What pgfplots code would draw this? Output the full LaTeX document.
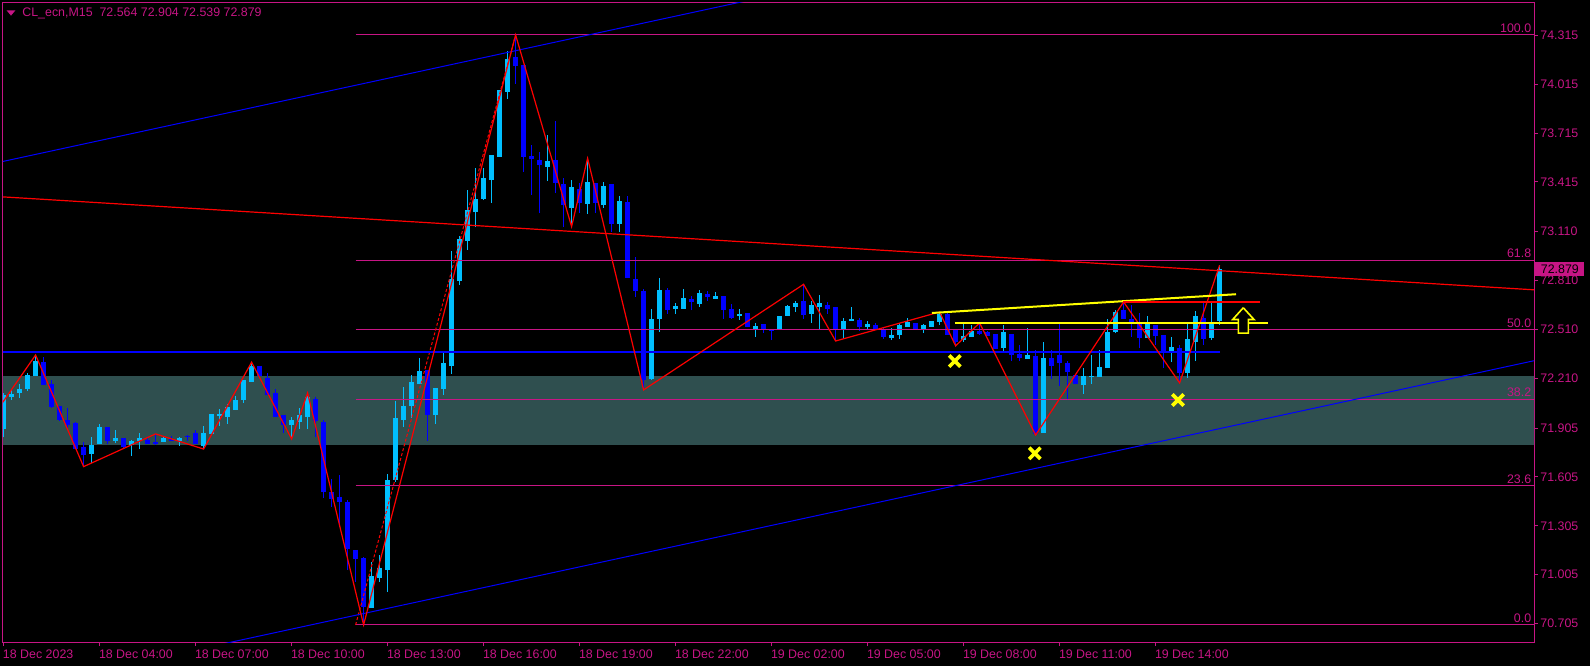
\documentclass[border=0pt]{standalone}
\usepackage{pgfplots}
\pgfplotsset{compat=1.18}
\usepackage{pgfplotstable}
\usepackage{fontspec}
\setmainfont{Liberation Sans}

\definecolor{mvr}{RGB}{199,21,133}
\definecolor{bullc}{RGB}{0,191,255}
\definecolor{bearc}{RGB}{0,0,255}
\definecolor{zone}{RGB}{47,79,79}
\definecolor{ylw}{RGB}{255,255,0}

% bar index, open, high, low, close
\pgfplotstableread{
x o h l c
0 71.899 72.122 71.848 72.108
1 72.097 72.143 72.077 72.114
2 72.120 72.175 72.091 72.145
3 72.145 72.245 72.132 72.231
4 72.226 72.353 72.226 72.316
11 71.748 71.850 71.689 71.801
12 71.809 71.930 71.809 71.912
14 71.826 71.893 71.815 71.844
16 71.801 71.832 71.734 71.826
17 71.826 71.875 71.776 71.844
20 71.820 71.850 71.820 71.844
22 71.826 71.850 71.795 71.844
25 71.795 71.918 71.776 71.875
26 71.869 71.991 71.869 71.991
27 71.979 72.022 71.918 71.991
28 71.973 72.053 71.930 72.034
29 72.016 72.102 72.016 72.077
30 72.077 72.200 72.061 72.200
31 72.188 72.309 72.188 72.286
36 71.924 71.973 71.838 71.954
37 71.942 72.028 71.899 71.985
38 71.973 72.120 71.899 72.096
46 70.803 71.085 70.803 70.997
47 70.987 71.126 70.962 71.045
48 71.034 71.623 70.901 71.586
49 71.586 72.073 71.576 71.967
50 71.954 72.159 71.910 72.040
51 72.040 72.231 71.965 72.188
52 72.175 72.335 72.175 72.255
54 71.985 72.151 71.930 72.151
55 72.145 72.366 72.108 72.304
56 72.286 72.992 72.237 72.820
57 72.807 73.084 72.783 73.065
58 73.053 73.366 72.998 73.243
59 73.233 73.499 73.141 73.311
60 73.311 73.499 73.304 73.439
61 73.427 73.581 73.288 73.581
62 73.570 73.979 73.570 73.979
63 73.969 74.221 73.924 74.170
68 73.509 73.703 73.421 73.544
71 73.257 73.427 73.141 73.386
73 73.280 73.560 73.219 73.413
75 73.274 73.413 73.257 73.392
77 73.157 73.329 73.110 73.298
81 72.204 72.636 72.200 72.574
82 72.574 72.826 72.496 72.752
84 72.636 72.674 72.605 72.654
85 72.636 72.758 72.636 72.703
87 72.666 72.752 72.650 72.734
89 72.697 72.738 72.697 72.717
92 72.593 72.636 72.568 72.605
94 72.507 72.550 72.464 72.531
97 72.507 72.593 72.507 72.593
98 72.593 72.660 72.593 72.654
99 72.648 72.685 72.617 72.672
101 72.605 72.685 72.550 72.660
102 72.648 72.722 72.507 72.672
105 72.507 72.580 72.452 72.562
106 72.562 72.648 72.562 72.574
108 72.525 72.562 72.513 72.544
111 72.458 72.519 72.445 72.476
112 72.476 72.550 72.452 72.537
113 72.525 72.580 72.525 72.556
115 72.507 72.544 72.488 72.537
116 72.525 72.562 72.525 72.562
117 72.556 72.617 72.537 72.605
120 72.445 72.544 72.433 72.470
121 72.464 72.537 72.464 72.501
125 72.396 72.537 72.378 72.494
128 72.329 72.519 72.329 72.353
130 71.875 72.433 71.875 72.335
135 72.169 72.274 72.114 72.225
136 72.218 72.353 72.175 72.225
137 72.218 72.384 72.218 72.280
138 72.274 72.574 72.274 72.494
139 72.494 72.629 72.488 72.617
143 72.458 72.593 72.458 72.544
146 72.378 72.464 72.310 72.402
148 72.243 72.544 72.212 72.452
149 72.433 72.623 72.316 72.593
151 72.458 72.679 72.445 72.550
152 72.564 72.904 72.539 72.879
}\bulldata

\pgfplotstableread{
x o h l c
5 72.310 72.339 72.169 72.169
6 72.175 72.200 72.030 72.034
7 72.040 72.040 71.950 71.954
8 71.954 72.028 71.907 71.924
9 71.936 71.944 71.776 71.776
10 71.789 71.818 71.668 71.740
13 71.912 71.912 71.809 71.826
15 71.844 71.844 71.781 71.789
18 71.832 71.844 71.807 71.807
19 71.820 71.869 71.801 71.807
21 71.838 71.856 71.826 71.826
23 71.856 71.862 71.826 71.850
24 71.875 71.893 71.807 71.807
32 72.286 72.286 72.220 72.225
33 72.212 72.243 72.108 72.108
34 72.120 72.145 71.973 71.973
35 71.985 71.985 71.875 71.924
39 72.083 72.096 71.850 71.948
40 71.942 71.954 71.478 71.515
41 71.515 71.591 71.422 71.472
42 71.484 71.617 71.300 71.453
43 71.453 71.464 71.034 71.161
44 71.157 71.157 70.962 71.102
45 71.106 71.112 70.697 70.809
53 72.261 72.261 71.827 71.985
64 74.182 74.317 74.016 74.129
65 74.133 74.133 73.478 73.566
66 73.574 73.642 73.335 73.556
67 73.550 73.601 73.223 73.519
69 73.550 73.789 73.346 73.407
70 73.403 73.438 73.141 73.274
72 73.372 73.407 73.227 73.284
74 73.407 73.411 73.223 73.284
76 73.403 73.403 73.110 73.157
78 73.292 73.329 72.828 72.828
79 72.820 72.955 72.711 72.746
80 72.746 72.757 72.139 72.200
83 72.752 72.766 72.605 72.629
86 72.697 72.717 72.629 72.679
88 72.728 72.746 72.685 72.709
90 72.715 72.715 72.574 72.629
91 72.636 72.666 72.574 72.580
93 72.611 72.611 72.525 72.525
95 72.544 72.544 72.488 72.507
96 72.507 72.507 72.445 72.501
100 72.685 72.787 72.574 72.599
103 72.660 72.679 72.605 72.636
104 72.648 72.648 72.439 72.507
107 72.568 72.580 72.501 72.525
109 72.537 72.550 72.507 72.507
110 72.507 72.519 72.452 72.464
114 72.550 72.550 72.507 72.507
118 72.605 72.611 72.476 72.476
119 72.507 72.507 72.409 72.433
122 72.501 72.550 72.476 72.482
123 72.494 72.501 72.470 72.470
124 72.482 72.482 72.390 72.390
126 72.482 72.482 72.316 72.353
127 72.360 72.415 72.316 72.335
129 72.347 72.384 71.862 71.869
131 72.335 72.384 72.206 72.286
132 72.353 72.544 72.163 72.304
133 72.304 72.316 72.077 72.249
134 72.231 72.231 72.175 72.175
140 72.629 72.679 72.574 72.574
141 72.574 72.660 72.466 72.556
142 72.550 72.611 72.396 72.458
144 72.537 72.537 72.415 72.470
145 72.476 72.476 72.274 72.378
147 72.396 72.415 72.182 72.243
150 72.580 72.672 72.415 72.452
}\beardata

\pgfplotsset{
  wick/.style={line width=0.5pt, line cap=butt,
    quiver={u=0, v=\thisrow{h}-\thisrow{l},
      every arrow/.append style={line cap=butt}}},
  body/.style={line width=2.5pt, line cap=butt,
    quiver={u=0, v=\thisrow{c}-\thisrow{o},
      every arrow/.append style={line cap=butt}}},
}

\begin{document}
\begin{tikzpicture}[font=\fontsize{6.2}{7}\selectfont]
\useasboundingbox (-1.5pt,-12pt) rectangle (793.5pt,321pt);
\fill[black] (-1.5pt,-12pt) rectangle (793.5pt,321pt);
\begin{axis}[
  x=4pt, y=81.485pt,
  xmin=-0.075, xmax=191.3, ymin=70.592, ymax=74.513,
  axis line style={mvr, line width=0.5pt},
  tick align=outside, major tick length=2pt,
  tick style={mvr, line width=0.5pt},
  xtick pos=lower, ytick pos=right, yticklabel pos=right,
  xtick={0,12,...,144},
  xticklabels={18 Dec 2023, 18 Dec 04:00, 18 Dec 07:00, 18 Dec 10:00, 18 Dec 13:00,
    18 Dec 16:00, 18 Dec 19:00, 18 Dec 22:00, 19 Dec 02:00, 19 Dec 05:00,
    19 Dec 08:00, 19 Dec 11:00, 19 Dec 14:00},
  ytick={70.705,71.005,71.305,71.605,71.905,72.210,72.510,72.810,73.110,73.415,73.715,74.015,74.315},
  yticklabels={70.705,71.005,71.305,71.605,71.905,72.210,72.510,72.810,73.110,73.415,73.715,74.015,74.315},
  xticklabel style={anchor=north west, inner sep=0pt, xshift=-0.5pt, yshift=-1.5pt,
    text=mvr, font=\fontsize{6.2}{7}\selectfont},
  yticklabel style={anchor=west, inner sep=0pt, xshift=1pt,
    text=mvr, font=\fontsize{6.2}{7}\selectfont},
  /pgf/number format/assume math mode=true,
]
% support / resistance zone
\addplot[fill=zone, draw=none] coordinates {(-1,71.802) (193,71.802) (193,72.223) (-1,72.223)};

% candles: wicks from low to high, bodies from open to close
\addplot[bullc, wick] table[x=x, y=l] {\bulldata};
\addplot[bullc, body] table[x=x, y=o] {\bulldata};
\addplot[bearc, wick] table[x=x, y=l] {\beardata};
\addplot[bearc, body] table[x=x, y=o] {\beardata};

% fibonacci levels
\addplot[mvr, line width=0.5pt] coordinates {(44,74.317) (193,74.317)};
\addplot[mvr, line width=0.5pt] coordinates {(44,72.934) (193,72.934)};
\addplot[mvr, line width=0.5pt] coordinates {(44,72.507) (193,72.507)};
\addplot[mvr, line width=0.5pt] coordinates {(44,72.080) (193,72.080)};
\addplot[mvr, line width=0.5pt] coordinates {(44,71.551) (193,71.551)};
\addplot[mvr, line width=0.5pt] coordinates {(44,70.697) (193,70.697)};
\addplot[red, line width=0.5pt, dash pattern=on 1.5pt off 1pt] coordinates {(44,70.697) (64,74.317)};

% trend lines
\addplot[bearc, line width=0.5pt] coordinates {(-1,73.531) (100,74.602)};
\addplot[bearc, line width=0.5pt] coordinates {(-1,70.279) (193,72.336)};
\addplot[bearc, line width=1pt] coordinates {(-1,72.374) (152.05,72.374)};
\addplot[red, line width=0.6pt] coordinates {(-1,73.326) (193,72.748)};

% zigzag
\addplot[red, line width=0.6pt] coordinates {
  (-1,72.000) (4,72.353) (10,71.668) (19,71.869) (25,71.776) (31,72.309)
  (36,71.838) (38,72.120) (45,70.697) (64,74.317) (71,73.141) (73,73.560)
  (80,72.139) (100,72.787) (104,72.439) (117,72.617) (119,72.409) (122,72.550)
  (129,71.862) (140,72.679) (147,72.182) (152,72.904)};

% neckline and breakout
\addplot[ylw, line width=1pt] coordinates {(116.05,72.611) (154.05,72.726)};
\addplot[ylw, line width=1pt] coordinates {(118.9,72.550) (158.0,72.550)};
\addplot[red, line width=1pt] coordinates {(139.95,72.679) (157.05,72.679)};
\addplot[only marks, mark=x, mark size=4pt, ylw, line width=1.8pt]
  coordinates {(118.9,72.316) (128.9,71.750) (146.8,72.077)};
\addplot[draw=ylw, fill=black, line width=0.8pt] coordinates {
  (154.96,72.643) (156.30,72.571) (155.59,72.571) (155.59,72.487)
  (154.34,72.487) (154.34,72.571) (153.64,72.571) (154.96,72.643)};

% level labels
\node[anchor=south east, inner sep=0pt, text=mvr, yshift=1pt] at (axis cs:191,74.317) {100.0};
\node[anchor=south east, inner sep=0pt, text=mvr, yshift=1pt] at (axis cs:191,72.934) {61.8};
\node[anchor=south east, inner sep=0pt, text=mvr, yshift=1pt] at (axis cs:191,72.507) {50.0};
\node[anchor=south east, inner sep=0pt, text=mvr, yshift=1pt] at (axis cs:191,72.080) {38.2};
\node[anchor=south east, inner sep=0pt, text=mvr, yshift=1pt] at (axis cs:191,71.551) {23.6};
\node[anchor=south east, inner sep=0pt, text=mvr, yshift=1pt] at (axis cs:191,70.697) {0.0};
\coordinate (pb) at (axis cs:191.3,72.879);
\end{axis}
\node[fill=mvr, text=black, anchor=west, inner sep=0pt, minimum width=24.5pt,
  minimum height=7pt, xshift=0.5pt] at (pb) {72.879};
\fill[mvr] (1.8pt,315.8pt) -- (6.2pt,315.8pt) -- (4pt,313.2pt) -- cycle;
\node[anchor=base west, inner sep=0pt, text=mvr] at (9.5pt,312.6pt)
  {CL\_ecn,M15\ \ 72.564 72.904 72.539 72.879};
\end{tikzpicture}
\end{document}
